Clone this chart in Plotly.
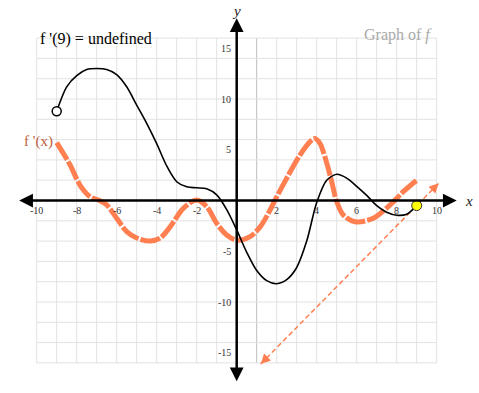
import plotly.graph_objects as go

# ---- data ----
f_x = [-9, -8.5, -8, -7.5, -7, -6.5, -6, -5.5, -5, -4.5, -4, -3.5, -3, -2.5, -2, -1.5, -1, -0.5,
       0, 0.5, 1, 1.5, 2, 2.5, 3, 3.5, 4, 4.5, 5, 5.5, 6, 6.5, 7, 7.5, 8, 8.5, 9]
f_y = [8.8, 11.2, 12.3, 12.9, 13.0, 12.9, 12.4, 11.2, 9.4, 7.6, 5.6, 3.4, 1.85, 1.35, 1.25, 1.15, 0.55, -0.9,
       -2.9, -5.1, -6.9, -7.9, -8.2, -7.8, -6.6, -4.0, -0.2, 2.0, 2.58, 2.2, 1.4, 0.5, -0.5, -1.15, -1.45,
       -1.35, -0.5]

d_x = [-9, -8.33, -7.83, -7.33, -6.92, -6.5, -6, -5.5, -5, -4.33, -3.83, -3.33, -2.67, -2, -1.5, -1,
       -0.5, 0, 0.67, 1.17, 1.67, 1.92, 2.5, 3.17, 3.67, 3.9, 4.17, 4.33, 4.53, 4.75, 5, 5.33, 5.92,
       6.83, 7.67, 8.33, 9]
d_y = [5.7, 3.5, 1.5, 0.37, 0.05, -0.44, -1.75, -3.07, -3.7, -4.0, -3.7, -2.6, -0.77, 0.05, -0.6, -2.25,
       -3.4, -3.9, -3.56, -2.6, -0.94, 0.05, 2.2, 4.5, 5.8, 6.1, 5.6, 4.8, 3.5, 1.85, -0.1, -1.43, -2.1,
       -1.75, -0.44, 0.87, 2.0]

tangent_slope = 2.0
tangent_x = [1.2, 10.1]

open_pt = (-9, 8.8)
end_pt = (9, -0.5)

x_ticks = [-10, -8, -6, -4, -2, 2, 4, 6, 8, 10]
y_ticks = [15, 10, 5, -5, -10, -15]

title_left = "f '(9) = undefined"
title_right = "Graph of <i>f</i>"
deriv_label = "f '(x)"

CORAL = "#ff7f50"
SERIF = "Liberation Serif"
W, H = 479, 393

fig = go.Figure()

# grid
shapes = []
for gx in range(-10, 11):
    shapes.append(dict(type="line", x0=gx, x1=gx, y0=-16, y1=16, layer="below",
                       line=dict(color="#bdbdbd" if gx == 1 else "#e2e2e2", width=1)))
for gy in range(-16, 17, 2):
    shapes.append(dict(type="line", x0=-10, x1=10, y0=gy, y1=gy, layer="below",
                       line=dict(color="#e2e2e2", width=1)))
fig.update_layout(shapes=shapes)

annotations = []
# axes with arrows
annotations.append(dict(x=11.0, y=0, ax=-10.95, ay=0, xref="x", yref="y", axref="x", ayref="y",
                        text="", showarrow=True, arrowhead=2, arrowside="end+start",
                        arrowwidth=2.5, arrowsize=1.1, arrowcolor="black"))
annotations.append(dict(x=0, y=17.95, ax=0, ay=-17.95, xref="x", yref="y", axref="x", ayref="y",
                        text="", showarrow=True, arrowhead=2, arrowside="end+start",
                        arrowwidth=2.5, arrowsize=1.1, arrowcolor="black"))

# tangent line (dashed) computed from endpoint and slope
t_y = [end_pt[1] + tangent_slope * (tx - end_pt[0]) for tx in tangent_x]
fig.add_trace(go.Scatter(x=tangent_x, y=t_y, mode="lines",
                         line=dict(color=CORAL, width=1.5, dash="5px,3px"), hoverinfo="skip"))
for i, j in ((1, 0), (0, 1)):
    hx, hy = tangent_x[i], t_y[i]
    tx = hx + (tangent_x[j] - hx) * 0.03
    ty = hy + (t_y[j] - hy) * 0.03
    annotations.append(dict(x=hx, y=hy, ax=tx, ay=ty, xref="x", yref="y", axref="x", ayref="y",
                            text="", showarrow=True, arrowhead=2, arrowwidth=1.5, arrowsize=1.3,
                            arrowcolor=CORAL))

# derivative curve
fig.add_trace(go.Scatter(x=d_x, y=d_y, mode="lines",
                         line=dict(color=CORAL, width=5, shape="spline", smoothing=0.9, dash="20px,2px"),
                         hoverinfo="skip"))
# f curve
fig.add_trace(go.Scatter(x=f_x, y=f_y, mode="lines",
                         line=dict(color="black", width=1.6, shape="spline", smoothing=0.8),
                         hoverinfo="skip"))
fig.add_trace(go.Scatter(x=[open_pt[0]], y=[open_pt[1]], mode="markers",
                         marker=dict(size=9, color="white", line=dict(color="black", width=1.5))))
fig.add_trace(go.Scatter(x=[end_pt[0]], y=[end_pt[1]], mode="markers",
                         marker=dict(size=10, color="#ffff00", line=dict(color="#333", width=1))))

# tick labels
for tx in x_ticks:
    annotations.append(dict(x=tx, y=0, xref="x", yref="y", text=str(tx), showarrow=False,
                            yshift=-10, font=dict(family=SERIF, size=10, color="#333")))
for ty in y_ticks:
    annotations.append(dict(x=0, y=ty, xref="x", yref="y", text=str(ty), showarrow=False,
                            xanchor="right", xshift=-4, font=dict(family=SERIF, size=10, color="#333")))

# axis names
annotations.append(dict(x=11.3, y=0, xref="x", yref="y", text="<i>x</i>", showarrow=False,
                        xanchor="left", font=dict(family=SERIF, size=15, color="#222")))
annotations.append(dict(x=0, y=18.7, xref="x", yref="y", text="<i>y</i>", showarrow=False,
                        font=dict(family=SERIF, size=15, color="#222")))

# titles / labels (page pixel positions)
annotations.append(dict(x=38, y=28, xref="paper", yref="paper", text=title_left, showarrow=False,
                        xanchor="left", font=dict(family=SERIF, size=16, color="black")))
annotations.append(dict(x=434, y=24, xref="paper", yref="paper", text=title_right, showarrow=False,
                        xanchor="right", font=dict(family=SERIF, size=16, color="#aaaaaa")))
annotations.append(dict(x=22, y=141, xref="paper", yref="paper", text=deriv_label, showarrow=False,
                        xanchor="left", font=dict(family=SERIF, size=15, color="#c0603a")))

for a in annotations:
    if a.get("xref") == "paper":
        a["x"] = a["x"] / W
        a["y"] = 1 - a["y"] / H

# page pixel mapping: x=0 at 236.7, 20 px/unit; y=0 at 200.5, 10.15 px/unit
x0p, y0p = 236.7, 200.5
fig.update_layout(
    annotations=annotations,
    width=W, height=H,
    margin=dict(l=0, r=0, t=0, b=0),
    paper_bgcolor="white", plot_bgcolor="white",
    showlegend=False,
    xaxis=dict(range=[-x0p / 20, (W - x0p) / 20], visible=False, fixedrange=True),
    yaxis=dict(range=[-(H - y0p) / 10.15, y0p / 10.15], visible=False, fixedrange=True),
)

fig.write_html("out.html", config={"displayModeBar": False},
               post_script="document.body.style.margin='0px';")
